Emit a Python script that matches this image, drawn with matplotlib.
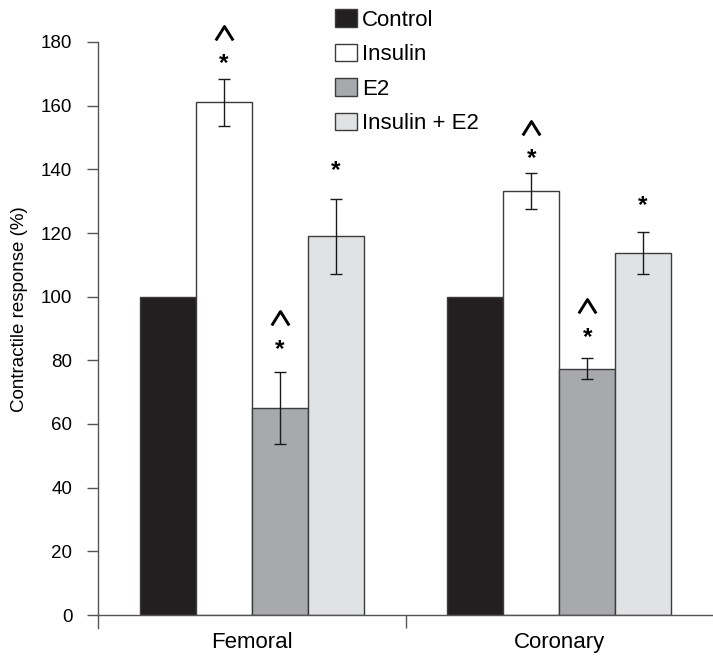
import matplotlib
matplotlib.use("Agg")
import matplotlib.pyplot as plt
import matplotlib.transforms as mtransforms
from matplotlib.patches import Patch
from matplotlib.path import Path
import numpy as np

plt.rcParams['font.family'] = ['Liberation Sans', 'DejaVu Sans']

# Data
vessels = ["Femoral", "Coronary"]
treatments = ["Control", "Insulin", "E2", "Insulin + E2"]
means = {
    "Control":      [100.0, 100.0],
    "Insulin":      [161.0, 133.2],
    "E2":           [65.0, 77.3],
    "Insulin + E2": [119.0, 113.7],
}
errors = {
    "Control":      [0.0, 0.0],
    "Insulin":      [7.4, 5.7],
    "E2":           [11.3, 3.3],
    "Insulin + E2": [11.8, 6.6],
}
# significance marks above each bar: (vessel index, treatment, text)
marks = [
    (0, "Insulin", "*^"), (0, "E2", "*^"), (0, "Insulin + E2", "*"),
    (1, "Insulin", "*^"), (1, "E2", "*^"), (1, "Insulin + E2", "*"),
]
yticks = [0, 20, 40, 60, 80, 100, 120, 140, 160, 180]

colors = {
    "Control": "#231f20",
    "Insulin": "#ffffff",
    "E2": "#a7a9ac",
    "Insulin + E2": "#e1e2e4",
}

W, H = 713, 656
fig = plt.figure(figsize=(W / 100, H / 100), dpi=100)
ax = fig.add_axes([98 / W, (H - 615) / H, (713 - 98) / W, (615 - 42) / H])

x = np.arange(len(vessels))
width = 0.1818
offsets = (np.arange(len(treatments)) - 1.5) * width
edge = "#3c3c3c"
axis_grey = "#555555"

for off, t in zip(offsets, treatments):
    ax.bar(x + off, means[t], width, color=colors[t], edgecolor=edge,
           linewidth=1.0, zorder=2)
    err = np.array(errors[t])
    if err.any():
        ax.errorbar(x + off, means[t], yerr=err, fmt="none", ecolor="#1a1a1a",
                    elinewidth=1.0, capsize=4, capthick=1.0, zorder=3)

# open chevron used for the second significance mark
chevron = Path([(-1.0, -0.8), (0.0, 0.8), (1.0, -0.8)],
               [Path.MOVETO, Path.LINETO, Path.LINETO])

# star offset above the error-bar top, in pixels
star_gap = {("Insulin", 0): 18, ("Insulin", 1): 17, ("E2", 0): 26, ("E2", 1): 24,
            ("Insulin + E2", 0): 31, ("Insulin + E2", 1): 30}
for vi, t, txt in marks:
    ti = treatments.index(t)
    xc = x[vi] + offsets[ti]
    top = means[t][vi] + errors[t][vi]
    gap = star_gap[(t, vi)]
    tr = mtransforms.offset_copy(ax.transData, fig=fig, x=0, y=gap - 3,
                                 units="dots")
    ax.text(xc, top, "*", transform=tr, ha="center", va="center",
            fontsize=17.5, fontweight="bold", clip_on=False)
    if "^" in txt:
        tr2 = mtransforms.offset_copy(ax.transData, fig=fig, x=0, y=gap + 28,
                                      units="dots")
        ax.plot([xc], [top], transform=tr2, marker=chevron, ms=12.5,
                mfc="none", mec="black", mew=2.1, linestyle="none",
                clip_on=False)

ax.set_xlim(-0.5, 1.5)
ax.set_ylim(0, 180)
ax.set_yticks(yticks)
ax.set_yticklabels([str(v) for v in yticks], fontsize=13.5)
ax.set_xticks([0.5])
ax.set_xticklabels([""])
ax.set_xticks(x, minor=True)
ax.set_xticklabels(vessels, minor=True, fontsize=16)
ax.tick_params(axis="x", which="major", length=9.5, width=1.0, color=axis_grey)
ax.tick_params(axis="x", which="minor", length=0, pad=12)
ax.tick_params(axis="y", length=8, width=1.0, color=axis_grey, pad=10.5)

for s in ["top", "right"]:
    ax.spines[s].set_visible(False)
for s in ["left", "bottom"]:
    ax.spines[s].set_color(axis_grey)
    ax.spines[s].set_linewidth(1.0)

# extend the left spine slightly below the x axis
ax.plot([-0.5, -0.5], [0, -13 * 180 / 573], color=axis_grey, lw=1.0,
        clip_on=False, zorder=1)

ax.set_ylabel("Contractile response (%)", fontsize=13.5)
ax.yaxis.set_label_coords(-70 / 615, 0.534)

handles = [Patch(facecolor=colors[t], edgecolor=edge, linewidth=1.0)
           for t in treatments]
fig.legend(handles, treatments, loc="upper left",
           bbox_to_anchor=(335 / W, 1 - 9 / H), frameon=False,
           fontsize=16, handlelength=1.0, handleheight=0.86,
           handletextpad=0.22, labelspacing=0.58, borderpad=0, borderaxespad=0)

fig.savefig("out.png", dpi=100)
